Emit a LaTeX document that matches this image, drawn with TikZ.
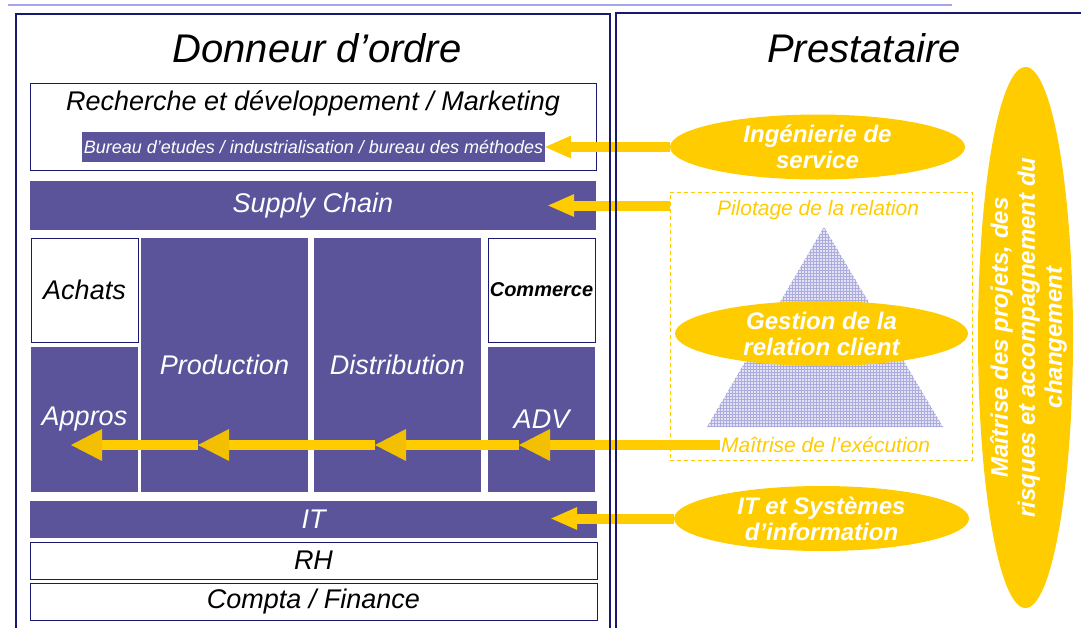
\documentclass[tikz,border=0pt]{standalone}
\usepackage{fontspec}
\setmainfont{Liberation Sans}
\usetikzlibrary{arrows.meta,shapes.geometric,patterns}
\definecolor{purp}{RGB}{91,84,155}
\definecolor{navy}{RGB}{25,25,112}
\definecolor{jaune}{RGB}{255,204,0}
\definecolor{jaunef}{RGB}{242,192,0}
\definecolor{lavande}{RGB}{165,165,235}
\definecolor{grille}{RGB}{172,172,222}
\definecolor{fond}{RGB}{226,226,244}
\newcommand{\sz}[1]{\fontsize{#1}{#1}\selectfont}
\begin{document}
\begin{tikzpicture}[x=1pt,y=-1pt,
	bloc/.style={draw=navy,line width=1pt,fill=white,inner sep=0pt,font=\sz{27}\itshape},
	pbloc/.style={fill=purp,text=white,inner sep=0pt,font=\sz{27}\itshape},
	bulle/.style={ellipse,fill=jaune,inner sep=0pt,minimum width=295pt,minimum height=65pt},
	btxt/.style={text=white,align=center,inner sep=0pt,font=\bfseries\itshape\fontsize{24}{26}\selectfont},
	jtxt/.style={text=jaune,inner sep=1pt,font=\sz{21}\itshape},
	fleche/.style={draw=jaune,line width=10pt,-{Triangle[length=26pt,width=23pt,line width=0pt]}},
	chaine/.style={draw=jaune,line width=10pt,-{Triangle[length=31pt,width=32pt,line width=0pt,fill=jaunef]}}]
	\useasboundingbox (0,0) rectangle (1081,627);
	\clip (0,0) rectangle (1081,627);
	\draw [lavande,line width=2pt] (8,4.5) -- (952,4.5);
	% donneur d'ordre
	\node (donneur) at (317,48) {\sz{40}\itshape Donneur d’ordre};
	\node [bloc,minimum width=566pt,minimum height=87pt] (rd) at (313,126.5) {};
	\node [font=\sz{27}\itshape] (rdtitre) at (313,103) {Recherche et développement / Marketing};
	\node [pbloc,minimum width=463pt,minimum height=30pt,font=\sz{18}\itshape] (bureau) at (313.5,147) {Bureau d’etudes / industrialisation / bureau des méthodes};
	\node [pbloc,minimum width=566pt,minimum height=49pt] (sc) at (313,205.5) {Supply Chain};
	\node [bloc,minimum width=107pt,minimum height=104pt] (achats) at (84.5,290) {Achats};
	\node [pbloc,minimum width=107pt,minimum height=145pt] (appros) at (84.5,419.5) {Appros};
	\node [pbloc,minimum width=167pt,minimum height=254pt] (prod) at (224.5,365) {Production};
	\node [pbloc,minimum width=167pt,minimum height=254pt] (distri) at (397.5,365) {Distribution};
	\node [bloc,minimum width=107pt,minimum height=104pt,font=\sz{20}\bfseries\itshape] (commerce) at (541.5,290) {Commerce};
	\node [pbloc,minimum width=107pt,minimum height=145pt] (adv) at (541.5,419.5) {ADV};
	\node [pbloc,minimum width=567pt,minimum height=37pt] (it) at (313.5,519.5) {IT};
	\node [bloc,minimum width=567pt,minimum height=37pt] (rh) at (313.5,560.5) {RH};
	\node [bloc,minimum width=567pt,minimum height=37pt] (compta) at (313.5,601.5) {Compta / Finance};
	% prestataire
	\node (presta) at (864,48) {\sz{40}\itshape Prestataire};
	\node [bulle,label={[btxt]center:{Ingénierie de\\service}}] (ing) at (817.5,147) {};
	\node [draw=jaune,line width=0.8pt,dash pattern=on 4pt off 3pt,minimum width=302pt,minimum height=268pt] (relation) at (821,326) {};
	\node [jtxt] (pilotage) at (818,210) {Pilotage de la relation};
	\fill [fond] (824,227) -- (943,427) -- (707,427) -- cycle;
	\fill [pattern=grid,pattern color=grille] (824,227) -- (943,427) -- (707,427) -- cycle;
	\node [bulle,minimum width=293pt,label={[btxt]center:{Gestion de la\\relation client}}] (gestion) at (821.5,333.5) {};
	\node [jtxt,anchor=west] (exec) at (720,445) {Maîtrise de l’exécution};
	\node [bulle,label={[btxt]center:{IT et Systèmes\\d’information}}] (itsys) at (821.5,518.5) {};
	\node [bulle,minimum width=95pt,minimum height=541pt,label={[btxt,rotate=90,font=\bfseries\itshape\fontsize{24}{27}\selectfont,yshift=-3pt]center:{Maîtrise des projets, des\\risques et accompagnement du\\changement}}] (maitrise) at (1025.5,337.5) {};
	% fleches
	\draw [fleche] (ing.west) -- (bureau.east);
	\draw [fleche] (relation.west |- sc.east) -- ([xshift=-48pt]sc.east);
	\draw [fleche] (itsys.west) -- ([xshift=-46pt]it.east |- itsys.west);
	\coordinate (tadv) at (519,445);
	\coordinate (tdis) at (375,445);
	\coordinate (tpro) at (198,445);
	\coordinate (tapp) at (71,445);
	\draw [chaine] (exec.west) -- (tadv);
	\draw [chaine] (tadv) -- (tdis);
	\draw [chaine] (tdis) -- (tpro);
	\draw [chaine] (tpro) -- (tapp);
	% cadres
	\draw [navy,line width=1.2pt] (16,14) rectangle (610,660);
	\draw [navy,line width=1.2pt] (616,13) rectangle (1100,660);
\end{tikzpicture}
\end{document}
